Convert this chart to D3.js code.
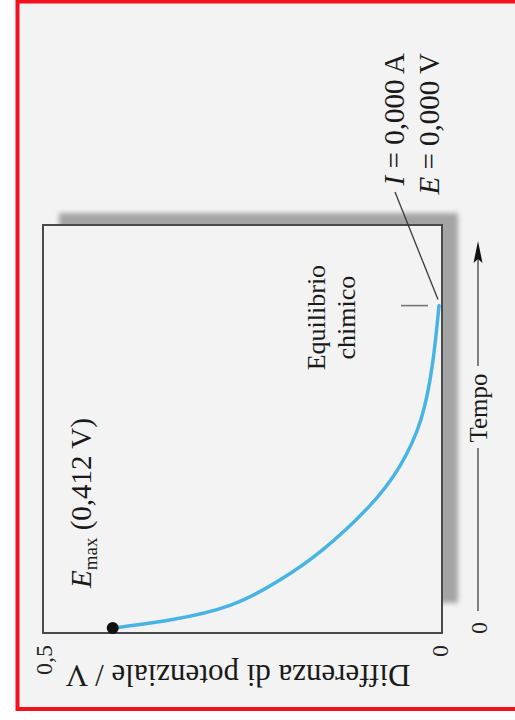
<!DOCTYPE html>
<html>
<head>
<meta charset="utf-8">
<script src="https://cdn.jsdelivr.net/npm/d3@7"></script>
<style>
  html, body { margin: 0; padding: 0; background: #ffffff; }
  svg { display: block; }
</style>
</head>
<body>
<svg id="chart" width="515" height="720"></svg>
<script>
// Cell discharge: potential difference falls from E_max to zero at chemical equilibrium
const timeValues    = [0, 0.20, 0.57, 1.19, 1.94, 3.00, 4.00, 5.16, 6.58, 8.0];
const voltageValues = [0.412, 0.340, 0.263, 0.201, 0.147, 0.089, 0.050, 0.023, 0.008, 0.000];
const voltageTicks  = [0, 0.5];
const timeTicks     = [0];
const eMax = 0.412;
const equilibriumTime = 8.0;
const equilibriumCurrent = 0;
const equilibriumVoltage = 0;

const serif = "'Liberation Serif', 'Times New Roman', serif";
const it = d3.formatLocale({ decimal: ",", thousands: ".", grouping: [3], currency: ["", " €"] });
const fmtTick = it.format("~g");
const fmt3 = it.format(".3f");

const svg = d3.select("#chart");

// page frame
svg.append("rect")
  .attr("x", 17.5).attr("y", 1.5).attr("width", 520).attr("height", 707.5)
  .attr("fill", "#f3f3f3").attr("stroke", "#f2121b").attr("stroke-width", 4);

// the chart is laid out turned a quarter turn: voltage runs along x, time along y
const box = { left: 43, right: 442, top: 225, bottom: 633 };
const vScale = d3.scaleLinear().domain([0, 0.5]).range([439, box.left]);
const tScale = d3.scaleLinear().domain([0, 10]).range([628, box.top]);

// soft drop shadow behind the plot frame
const defs = svg.append("defs");
defs.append("filter").attr("id", "shadow")
  .attr("x", "-10%").attr("y", "-10%").attr("width", "120%").attr("height", "120%")
  .append("feGaussianBlur").attr("stdDeviation", 2.6);

svg.append("rect")
  .attr("x", box.left + 16).attr("y", box.top - 12)
  .attr("width", box.right - box.left).attr("height", box.bottom - box.top - 18)
  .attr("fill", "#a4a4a4").attr("filter", "url(#shadow)");

svg.append("rect")
  .attr("x", box.left).attr("y", box.top)
  .attr("width", box.right - box.left).attr("height", box.bottom - box.top)
  .attr("fill", "#f3f3f3").attr("stroke", "#4a4a4a").attr("stroke-width", 2);

// voltage axis (ticks only, labels turned with the chart)
const vAxis = svg.append("g")
  .attr("transform", `translate(0,${box.bottom})`)
  .call(d3.axisBottom(vScale).tickValues(voltageTicks).tickFormat(fmtTick).tickSize(0));
vAxis.select(".domain").remove();
vAxis.selectAll("text")
  .attr("transform", "rotate(-90)")
  .attr("x", -12).attr("y", 0).attr("dy", "0.36em")
  .attr("text-anchor", "end")
  .style("font-family", serif).style("font-size", "24px").attr("fill", "#222");

// voltage axis title
svg.append("text")
  .attr("transform", "translate(238,665) rotate(180)")
  .attr("text-anchor", "middle")
  .style("font-family", serif).style("font-size", "31px").attr("fill", "#1a1a1a")
  .text("Differenza di potenziale / V");

// data series
const data = timeValues.map((t, i) => ({ t, v: voltageValues[i] }));
const line = d3.line()
  .x(d => vScale(d.v))
  .y(d => tScale(d.t))
  .curve(d3.curveNatural);

svg.append("path")
  .datum(data)
  .attr("d", line)
  .attr("fill", "none").attr("stroke", "#48b4e4").attr("stroke-width", 3.5)
  .attr("stroke-linecap", "round");

// starting point: E_max
svg.append("circle")
  .attr("cx", vScale(eMax)).attr("cy", tScale(0)).attr("r", 6)
  .attr("fill", "#111");

const eLabel = svg.append("text")
  .attr("transform", `translate(${vScale(eMax) - 22},${tScale(0) - 40}) rotate(-90)`)
  .style("font-family", serif).style("font-size", "29px").attr("fill", "#1a1a1a");
eLabel.append("tspan").style("font-style", "italic").text("E");
eLabel.append("tspan").attr("dy", 6).style("font-size", "19px").text("max");
eLabel.append("tspan").attr("dy", -6).text(` (${fmt3(eMax)} V)`);

// equilibrium marker
const eqX = vScale(equilibriumVoltage);
const eqY = tScale(equilibriumTime);
svg.append("line")
  .attr("x1", eqX - 38).attr("x2", eqX - 11)
  .attr("y1", eqY).attr("y2", eqY)
  .attr("stroke", "#777").attr("stroke-width", 1.6);

const eqLabel = svg.append("text")
  .attr("transform", `translate(325,${eqY + 12}) rotate(-90)`)
  .attr("text-anchor", "middle")
  .style("font-family", serif).style("font-size", "26px").attr("fill", "#1a1a1a");
eqLabel.append("tspan").attr("x", 0).text("Equilibrio");
eqLabel.append("tspan").attr("x", 0).attr("dy", 30).text("chimico");

// leader line to the equilibrium values
svg.append("line")
  .attr("x1", eqX - 1).attr("y1", eqY - 6)
  .attr("x2", 395).attr("y2", 192)
  .attr("stroke", "#3a3a3a").attr("stroke-width", 1.3);

const iLabel = svg.append("text")
  .attr("transform", "translate(404,53) rotate(-90)")
  .attr("text-anchor", "end")
  .style("font-family", serif).style("font-size", "29px").attr("fill", "#1a1a1a");
iLabel.append("tspan").style("font-style", "italic").text("I");
iLabel.append("tspan").text(` = ${fmt3(equilibriumCurrent)} A`);

const vLabel = svg.append("text")
  .attr("transform", "translate(439,53) rotate(-90)")
  .attr("text-anchor", "end")
  .style("font-family", serif).style("font-size", "29px").attr("fill", "#1a1a1a");
vLabel.append("tspan").style("font-style", "italic").text("E");
vLabel.append("tspan").text(` = ${fmt3(equilibriumVoltage)} V`);

// time axis: arrow running upwards alongside the plot
const tx = 478;
const tempoY = 408;
svg.append("line")
  .attr("x1", tx).attr("x2", tx)
  .attr("y1", tScale(0) - 17).attr("y2", tempoY + 40)
  .attr("stroke", "#333").attr("stroke-width", 1.2);
svg.append("line")
  .attr("x1", tx).attr("x2", tx)
  .attr("y1", tempoY - 42).attr("y2", 258)
  .attr("stroke", "#333").attr("stroke-width", 1.2);
svg.append("path")
  .attr("d", `M${tx},241 L${tx - 4.5},263 L${tx},259 L${tx + 4.5},263 Z`)
  .attr("fill", "#111");

svg.append("text")
  .attr("transform", `translate(${tx + 9},${tempoY}) rotate(-90)`)
  .attr("text-anchor", "middle")
  .style("font-family", serif).style("font-size", "25px").attr("fill", "#1a1a1a")
  .text("Tempo");

svg.selectAll(".tick-time")
  .data(timeTicks)
  .join("text")
  .attr("class", "tick-time")
  .attr("transform", d => `translate(${tx + 9},${tScale(d)}) rotate(-90)`)
  .attr("text-anchor", "middle")
  .style("font-family", serif).style("font-size", "24px").attr("fill", "#222")
  .text(d => fmtTick(d));
</script>
</body>
</html>
